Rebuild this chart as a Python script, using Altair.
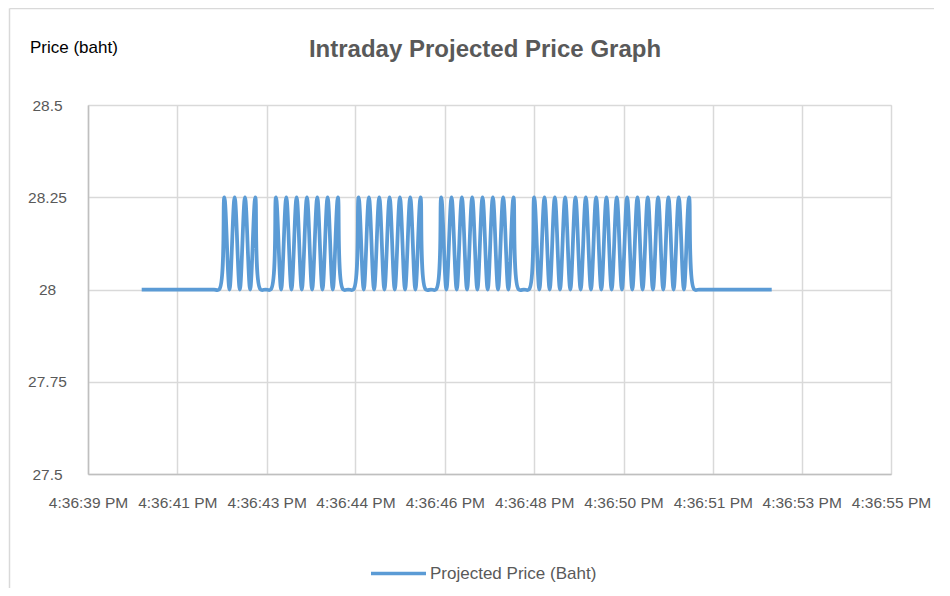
import json
import numpy as np
import pandas as pd
import altair as alt

# ---- data ----
series_name = "Projected Price (Baht)"
t_start = 40.34          # seconds after 4:36:00 PM of the first sample
t_step = 0.1             # sampling interval (s)

prices = [
    28, 28, 28, 28, 28, 28, 28, 28, 28, 28, 28, 28, 28, 28, 28, 28,
    28.25, 28, 28.25, 28, 28.25, 28, 28.25,
    28, 28, 28,
    28.25, 28, 28.25, 28, 28.25, 28, 28.25, 28, 28.25, 28, 28.25, 28, 28.25,
    28, 28, 28,
    28.25, 28, 28.25, 28, 28.25, 28, 28.25, 28, 28.25, 28, 28.25, 28, 28.25,
    28, 28, 28,
    28.25, 28, 28.25, 28, 28.25, 28, 28.25, 28, 28.25, 28, 28.25, 28, 28.25, 28, 28.25,
    28, 28, 28,
    28.25, 28, 28.25, 28, 28.25, 28, 28.25, 28, 28.25, 28, 28.25, 28, 28.25, 28, 28.25, 28,
    28.25, 28, 28.25, 28, 28.25, 28, 28.25, 28, 28.25, 28, 28.25, 28, 28.25, 28, 28.25,
    28, 28, 28, 28, 28, 28, 28, 28, 28, 28, 28, 28, 28, 28, 28, 28,
]

x_ticks = [39.30, 41.03, 42.76, 44.48, 46.21, 47.94, 49.67, 51.40, 53.12, 54.85]
x_labels = ["4:36:39 PM", "4:36:41 PM", "4:36:43 PM", "4:36:44 PM", "4:36:46 PM",
            "4:36:48 PM", "4:36:50 PM", "4:36:51 PM", "4:36:53 PM", "4:36:55 PM"]
y_ticks = [27.5, 27.75, 28, 28.25, 28.5]

times = np.round(t_start + t_step * np.arange(len(prices)), 2)
df = pd.DataFrame({"t": times, "price": prices, "series": series_name})

# ---- styles ----
BLUE = "#5b9bd5"
GRID = "#d9d9d9"
TXT = "#595959"
FONT = "Liberation Sans"
W, H = 803, 369
x_step = (x_ticks[-1] - x_ticks[0]) / (len(x_ticks) - 1)

label_expr = f"{json.dumps(x_labels)}[round((datum.value - {x_ticks[0]}) / {x_step:.5f})]"

line = alt.Chart(df).mark_line(strokeWidth=3.75, interpolate="catmull-rom").encode(
    x=alt.X("t:Q",
            scale=alt.Scale(domain=[x_ticks[0], x_ticks[-1]], nice=False, zero=False),
            axis=alt.Axis(values=x_ticks, labelExpr=label_expr, title=None,
                          grid=True, gridColor=GRID, gridWidth=1.5,
                          ticks=False, domainColor="#bfbfbf", domainWidth=1.5,
                          labelFont=FONT, labelFontSize=15.5, labelColor=TXT,
                          labelPadding=21, labelFlush=False, labelOverlap=False)),
    y=alt.Y("price:Q",
            scale=alt.Scale(domain=[y_ticks[0], y_ticks[-1]], nice=False, zero=False),
            axis=alt.Axis(values=y_ticks, labelExpr="format(datum.value, '.2~f')", title=None,
                          grid=True, gridColor=GRID, gridWidth=1.5,
                          ticks=False, domainColor="#bfbfbf", domainWidth=1.5,
                          labelFont=FONT, labelFontSize=15.5, labelColor=TXT,
                          labelAlign="center", labelPadding=41, labelFlush=False)),
    color=alt.Color("series:N",
                    scale=alt.Scale(domain=[series_name], range=[BLUE]),
                    legend=alt.Legend(title=None, orient="none", legendX=281, legendY=439,
                                      symbolType="stroke", symbolSize=3025,
                                      symbolStrokeWidth=3.5, symbolStrokeColor=BLUE,
                                      labelFont=FONT, labelFontSize=17, labelColor=TXT,
                                      labelOffset=2, labelLimit=0, padding=0)),
)

one = pd.DataFrame({"k": [0]})

title = alt.Chart(one).mark_text(
    text="Intraday Projected Price Graph", font=FONT, fontSize=24, fontWeight="bold",
    color=TXT, align="center", baseline="alphabetic"
).encode(x=alt.value(397), y=alt.value(-48))

ytitle = alt.Chart(one).mark_text(
    text="Price (baht)", font=FONT, fontSize=17, color="#000000",
    align="left", baseline="alphabetic"
).encode(x=alt.value(-58), y=alt.value(-52))

border_left = alt.Chart(one).mark_rule(color=GRID, strokeWidth=1.5).encode(
    x=alt.value(-78.5), y=alt.value(-96.5), y2=alt.value(500))
border_top = alt.Chart(one).mark_rule(color=GRID, strokeWidth=1.5).encode(
    x=alt.value(-78.5), x2=alt.value(860), y=alt.value(-96.5))

chart = alt.layer(border_left, border_top, line, title, ytitle).properties(
    width=W, height=H,
    padding={"left": 80, "top": 97, "right": 43, "bottom": 114},
    autosize=alt.AutoSizeParams(type="none"),
).configure_view(stroke=None).configure(background="white")

chart.save("out.html", embed_options={"renderer": "svg", "actions": False})
